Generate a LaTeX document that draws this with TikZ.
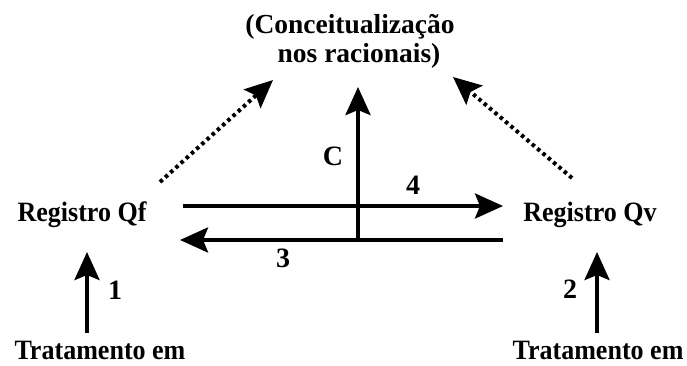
\documentclass[tikz,border=0pt]{standalone}
\usepackage{fontspec}
\usepackage{graphicx}
\setmainfont{Liberation Serif}
\usetikzlibrary{arrows.meta}
\newcommand{\cnd}[1]{\scalebox{0.93}[1]{#1}}
\tikzset{
  lbl/.style={font=\bfseries\fontsize{28}{32}\selectfont, inner sep=0pt, anchor=base},
  ttl/.style={font=\bfseries\fontsize{27.5}{32}\selectfont, inner sep=0pt, anchor=base},
  solidarrow/.style={line width=4pt, -{Stealth[length=28pt,width=25pt,inset=5pt]}},
  dotarrow/.style={line width=4pt, dash pattern=on 3.5pt off 3.5pt, -{Stealth[length=28pt,width=25pt,inset=5pt]}}
}
\begin{document}
\begin{tikzpicture}[x=1pt,y=-1pt]
\useasboundingbox (0,0) rectangle (687,365);
% texts
\node[ttl] (t1) at (350,33) {(Conceitualização};
\node[ttl] (t2) at (359,62) {nos racionais)};
\node[lbl] (qf) at (82,221) {\cnd{Registro Qf}};
\node[lbl] (qv) at (590,221) {\cnd{Registro Qv}};
\node[lbl] (tr1) at (100,359) {\cnd{Tratamento em}};
\node[lbl] (tr2) at (598,359) {\cnd{Tratamento em}};
\node[lbl] (l1) at (115,299) {1};
\node[lbl] (l2) at (570,298) {2};
\node[lbl] (l3) at (283,267) {3};
\node[lbl] (l4) at (413,194) {4};
\node[lbl] (lc) at (333,165) {C};
% coordinates
\coordinate (a1s) at (87,333);
\coordinate (a1e) at (87,252);
\coordinate (a2s) at (597,333);
\coordinate (a2e) at (597,252);
\coordinate (h4s) at (183,206);
\coordinate (h4e) at (503,206);
\coordinate (h3s) at (503,240);
\coordinate (h3e) at (180,240);
\coordinate (vcs) at (358,240);
\coordinate (vce) at (358,87);
\coordinate (dls) at (160,182);
\coordinate (dle) at (273,80);
\coordinate (drs) at (572,178);
\coordinate (dre) at (453,77);
% connectors
\draw[solidarrow] (a1s) -- (a1e);
\draw[solidarrow] (a2s) -- (a2e);
\draw[solidarrow] (h4s) -- (h4e);
\draw[solidarrow] (h3s) -- (h3e);
\draw[solidarrow] (vcs) -- (vce);
\draw[dotarrow] (dls) -- (dle);
\draw[dotarrow] (drs) -- (dre);
\end{tikzpicture}
\end{document}
